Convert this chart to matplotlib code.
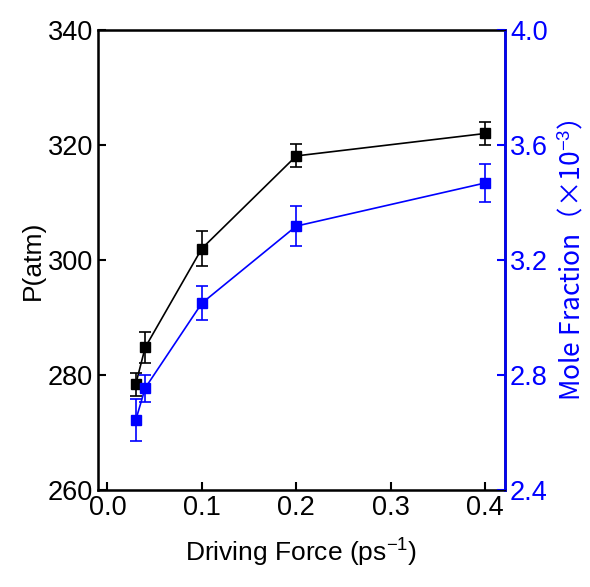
import numpy as np
import matplotlib
matplotlib.use('Agg')
import matplotlib.pyplot as plt

plt.rcParams['font.family'] = ['Liberation Sans', 'Noto Sans CJK SC', 'DejaVu Sans']
plt.rcParams['mathtext.fontset'] = 'custom'
plt.rcParams['mathtext.rm'] = 'Liberation Sans'

# data
force = [0.03, 0.04, 0.1, 0.2, 0.4]
pressure = [278.4, 284.8, 302.0, 318.1, 322.0]
pressure_err = [2.0, 2.7, 3.0, 2.0, 2.0]
mole = [2.643, 2.755, 3.05, 3.318, 3.468]
mole_err = [0.073, 0.047, 0.06, 0.07, 0.066]

blue = '#0000ff'

fig = plt.figure(figsize=(5.9, 5.87), dpi=100)
ax = fig.add_axes([0.166, 0.165, 0.690, 0.784])
ax.errorbar(force, pressure, yerr=pressure_err, color='black', marker='s',
            markersize=6.5, lw=1.2, capsize=4, elinewidth=1.2, capthick=1.2)
ax.set_xlim(-0.01, 0.421)
ax.set_ylim(260, 340)
ax.set_xticks([0.0, 0.1, 0.2, 0.3, 0.4])
ax.set_yticks([260, 280, 300, 320, 340])
ax.tick_params(direction='in', labelsize=19.5, width=1.5, length=6)
ax.set_xlabel('Driving Force (ps$^{-1}$)', fontsize=19, labelpad=10)
ax.set_ylabel('P(atm)', fontsize=19, labelpad=2)
for s in ax.spines.values():
    s.set_linewidth(1.8)

ax2 = ax.twinx()
ax2.errorbar(force, mole, yerr=mole_err, color=blue, marker='s',
             markersize=6.5, lw=1.2, capsize=4, elinewidth=1.2, capthick=1.2)
ax2.set_ylim(2.4, 4.0)
ax2.set_yticks([2.4, 2.8, 3.2, 3.6, 4.0])
ax2.tick_params(direction='in', labelsize=19.5, width=1.5, length=6, colors=blue)
ax2.spines['right'].set_color(blue)
ax2.spines['right'].set_linewidth(1.8)
ax2.set_ylabel('Mole Fraction\uff08\u00d710$^{-3}$\uff09', fontsize=19, color=blue,
               family='Noto Sans CJK SC', labelpad=6)

fig.savefig('out.png', dpi=100)
